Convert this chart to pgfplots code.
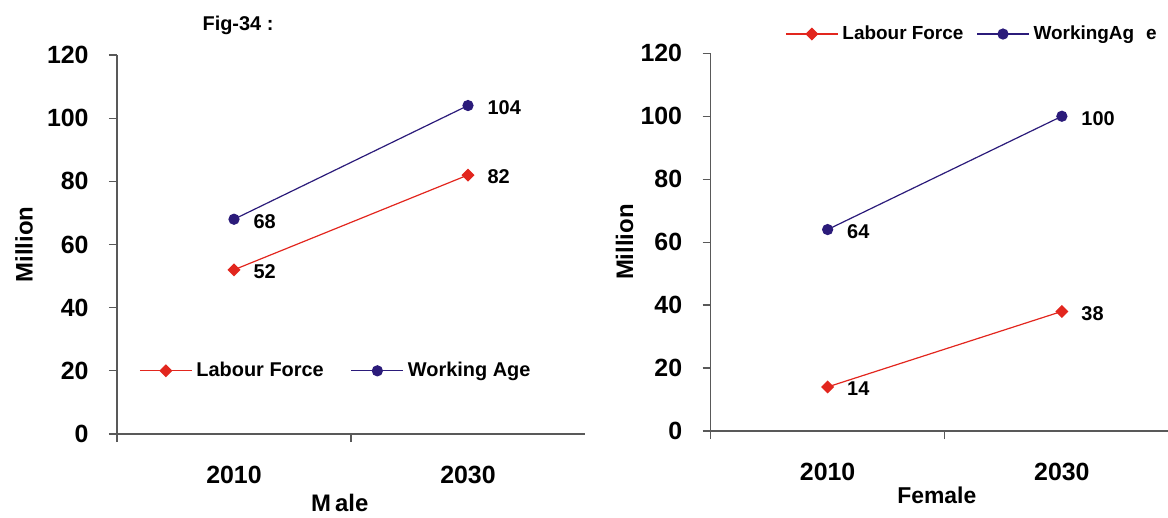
\documentclass[border=0pt]{standalone}
\usepackage{fontspec}
\setmainfont{Liberation Sans}
\usepackage{pgfplots}
\pgfplotsset{compat=1.18}

\definecolor{lfred}{RGB}{226,38,30}
\definecolor{wanavy}{RGB}{43,27,122}

\pgfplotsset{
  panel/.style={
    scale only axis,
    anchor=south west,
    xmin=-0.5, xmax=1.5, ymin=0, ymax=120,
    axis x line*=bottom, axis y line*=left,
    axis line style={black!65, line width=0.6bp},
    tick style={black!65, line width=0.6bp},
    tick align=outside,
    major tick length=4bp,
    xtick={-0.5,0.5}, xticklabels={},
    extra x ticks={0,1}, extra x tick labels={2010,2030},
    extra x tick style={major tick length=0pt,
      xticklabel style={anchor=north, inner sep=0pt, yshift=-16bp}},
    ytick={0,20,...,120},
    yticklabel style={anchor=east, inner sep=0pt, xshift=-10bp},
    ticklabel style={font=\fontsize{12.5}{14}\selectfont\bfseries},
    /pgf/number format/assume math mode=true,
    label style={font=\fontsize{12}{14}\selectfont\bfseries},
    clip=false,
    nodes near coords, point meta=explicit symbolic,
    every node near coord/.append style={font=\fontsize{10}{12}\selectfont\bfseries,
      text=black, anchor=west, inner sep=0pt, xshift=9.5bp, yshift=-1bp},
    legend image code/.code={\draw[mark repeat=2,mark phase=2]
      plot coordinates {(0bp,0bp)(13bp,0bp)(26bp,0bp)};},
    legend cell align=left,
  },
  lf/.style={color=lfred, line width=0.6bp, mark=square*, mark size=2bp,
    mark options={solid, rotate=45}},
  wa/.style={color=wanavy, line width=0.6bp, mark=*, mark size=2.5bp, mark options={solid}},
}

\begin{document}
\begin{tikzpicture}
\path[use as bounding box] (0,0) rectangle (584bp,259bp);

\node[font=\fontsize{10}{12}\selectfont\bfseries] at (119bp,246.5bp) {Fig-34 :};

% Male
\begin{axis}[panel,
  at={(58.5bp,42bp)}, width=234bp, height=189.5bp,
  xlabel={M\hspace{2bp}ale},
  xlabel style={at={(axis description cs:0.476,0)}, anchor=center, yshift=-34.5bp},
  ylabel={Million},
  ylabel style={at={([xshift=-46.5bp]axis description cs:0,0.5)}, anchor=center},
  legend style={at={(axis description cs:0.034,0.1667)}, anchor=west,
    draw=none, fill=none, legend columns=2,
    font=\fontsize{10}{12}\selectfont\bfseries,
    /tikz/every even column/.append style={column sep=11.5bp}},
]
\addplot[lf] coordinates {(0,52)[52] (1,82)[82]};
\addlegendentry{Labour Force}
\addplot[wa] coordinates {(0,68)[68] (1,104)[104]};
\addlegendentry{Working Age}
\end{axis}

% Female
\begin{axis}[panel,
  at={(355.25bp,43.5bp)}, width=234.25bp, height=188.85bp,
  xlabel={Female},
  xlabel style={at={(axis description cs:0.483,0)}, anchor=center, yshift=-32bp,
    font=\fontsize{11.5}{14}\selectfont\bfseries},
  ylabel={Million},
  ylabel style={at={([xshift=-43bp]axis description cs:0,0.5)}, anchor=center},
  legend style={at={(axis description cs:0.146,1.051)}, anchor=west,
    draw=none, fill=none, legend columns=2,
    font=\fontsize{9.5}{12}\selectfont\bfseries,
    /tikz/every even column/.append style={column sep=4.5bp}},
]
\addplot[lf] coordinates {(0,14)[14] (1,38)[38]};
\addlegendentry{Labour Force}
\addplot[wa] coordinates {(0,64)[64] (1,100)[100]};
\addlegendentry{WorkingAg\hspace{6bp}e}
\end{axis}
\end{tikzpicture}
\end{document}
